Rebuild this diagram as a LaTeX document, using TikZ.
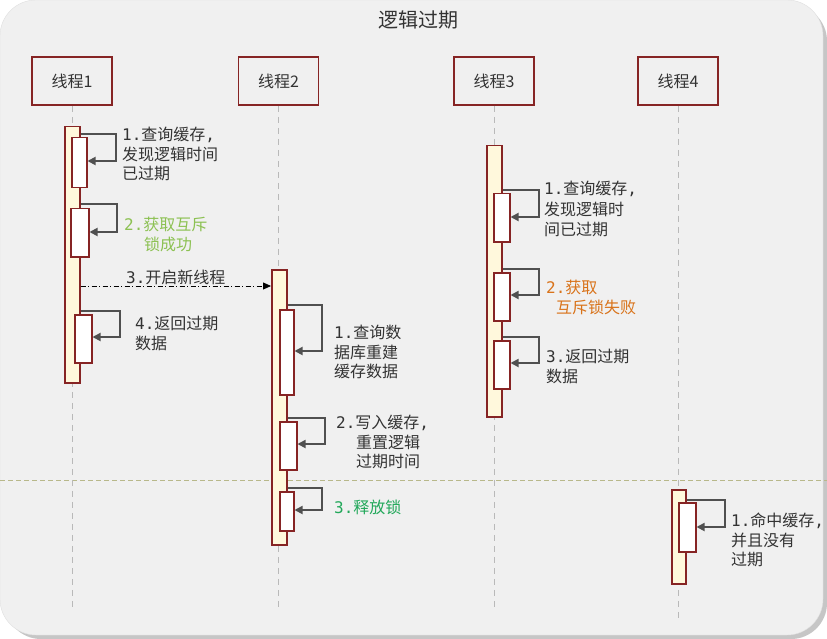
\documentclass[tikz,border=0pt]{standalone}
\usepackage{fontspec}
\setmainfont{Noto Sans CJK SC}
\newfontfamily\digitfont{DejaVu Sans Mono}
\newcommand\stepno[1]{{\digitfont #1}}
\newcommand\cm{{\digitfont ,}}
\usetikzlibrary{arrows.meta}
\definecolor{bg}{HTML}{F0F0F0}
\definecolor{frame}{HTML}{862424}
\definecolor{barfill}{HTML}{FFF8DC}
\definecolor{txt}{HTML}{333333}
\definecolor{arr}{HTML}{505050}
\definecolor{okgreen}{HTML}{8CC152}
\definecolor{relgreen}{HTML}{22A85A}
\definecolor{failorange}{HTML}{D9731A}
\definecolor{sepcol}{HTML}{B8B88A}
\tikzset{
  head/.style={draw=frame, line width=1.6pt, fill=bg, minimum width=80pt, minimum height=48pt, inner sep=0pt, font=\fontsize{16}{19}\selectfont, text=txt},
  lifeline/.style={draw=gray!55, line width=1pt, dash pattern=on 6pt off 5pt},
  actbar/.style={draw=frame, fill=barfill, line width=1.5pt, inner sep=0pt, anchor=north west},
  subact/.style={draw=frame, fill=white, line width=1.5pt, inner sep=0pt, anchor=north west},
  selfmsg/.style={draw=arr, line width=1.7pt, -{Triangle[length=8pt,width=8pt]}},
  callmsg/.style={draw=black, line width=0.8pt, dash pattern=on 5pt off 2.5pt on 1pt off 2.5pt, -{Triangle[length=8pt,width=7pt]}},
  lbl/.style={anchor=north west, inner sep=0pt, align=left, text=txt, font=\fontsize{16}{19.5}\selectfont},
  sepline/.style={draw=sepcol, line width=0.8pt, dash pattern=on 5pt off 3pt}
}
\begin{document}
\begin{tikzpicture}[x=1pt,y=-1pt]
\useasboundingbox (0,0) rectangle (827,639);
\fill[white] (0,0) rectangle (827,639);
\fill[gray!45, rounded corners=36pt] (5,5) rectangle (827,639);
\fill[bg, rounded corners=36pt, draw=gray!25] (0,0) rectangle (823,635);

\node[text=txt, font=\fontsize{20}{24}\selectfont] (title) at (418,20) {逻辑过期};

\draw[sepline] (0,480) coordinate (sepL) -- (827,480) coordinate (sepR);

% headers
\node[head] (h1) at (72,81) {线程1};
\node[head] (h2) at (278.5,81) {线程2};
\node[head] (h3) at (494,81) {线程3};
\node[head] (h4) at (678,81) {线程4};

\coordinate (e1) at (72,608);
\coordinate (e2) at (278.5,608);
\coordinate (e3) at (494,608);
\coordinate (e4) at (678,618);
\draw[lifeline] (h1.south) -- (e1);
\draw[lifeline] (h2.south) -- (e2);
\draw[lifeline] (h3.south) -- (e3);
\draw[lifeline] (h4.south) -- (e4);

% thread 1
\node[actbar, minimum width=15pt, minimum height=256pt] (b1) at (64,126) {};
\node[subact, minimum width=15pt, minimum height=50pt] (s11) at (71,137) {};
\node[subact, minimum width=18pt, minimum height=48pt] (s12) at (70,208) {};
\node[subact, minimum width=17pt, minimum height=48pt] (s13) at (74,314) {};
\draw[selfmsg] (b1.east |- 0,134) -- (116,134) |- (s11.east |- 0,161);
\draw[selfmsg] (b1.east |- 0,204) -- (117,204) |- (s12.east |- 0,232);
\draw[selfmsg] (b1.east |- 0,311) -- (120,311) |- (s13.east |- 0,337);

% thread 2
\node[actbar, minimum width=15pt, minimum height=275pt] (b2) at (271,269) {};
\node[subact, minimum width=14pt, minimum height=85pt] (s21) at (279,309) {};
\node[subact, minimum width=17pt, minimum height=48pt] (s22) at (279,421) {};
\node[subact, minimum width=14pt, minimum height=39pt] (s23) at (279,491) {};
\draw[selfmsg] (b2.east |- 0,305) -- (322,305) |- (s21.east |- 0,351);
\draw[selfmsg] (b2.east |- 0,418) -- (325,418) |- (s22.east |- 0,444);
\draw[selfmsg] (b2.east |- 0,488) -- (322,488) |- (s23.east |- 0,510);

\draw[callmsg] (b1.east |- 0,286) -- (b2.west |- 0,286);

% thread 3
\node[actbar, minimum width=15pt, minimum height=271pt] (b3) at (486,145) {};
\node[subact, minimum width=16pt, minimum height=48pt] (s31) at (493,193) {};
\node[subact, minimum width=16pt, minimum height=48pt] (s32) at (493,272) {};
\node[subact, minimum width=16pt, minimum height=48pt] (s33) at (493,340) {};
\draw[selfmsg] (b3.east |- 0,190) -- (539,190) |- (s31.east |- 0,217);
\draw[selfmsg] (b3.east |- 0,269) -- (539,269) |- (s32.east |- 0,295);
\draw[selfmsg] (b3.east |- 0,337) -- (539,337) |- (s33.east |- 0,363);

% thread 4
\node[actbar, minimum width=14pt, minimum height=94pt] (b4) at (671,489) {};
\node[subact, minimum width=17pt, minimum height=49pt] (s41) at (678,502) {};
\draw[selfmsg] (b4.east |- 0,500) -- (725,500) |- (s41.east |- 0,527);

% labels
\node[lbl] (t11) at (122,127) {\stepno{1.}查询缓存\cm\\发现逻辑时间\\已过期};
\node[lbl, text=okgreen] (t12) at (124,217) {\stepno{2.}获取互斥\\\hspace*{20pt}锁成功};
\node[lbl] (t13) at (126,270) {\stepno{3.}开启新线程};
\node[lbl] (t14) at (135,316) {\stepno{4.}返回过期\\数据};

\node[lbl] (t21) at (334,325) {\stepno{1.}查询数\\据库重建\\缓存数据};
\node[lbl] (t22) at (336,415) {\stepno{2.}写入缓存\cm\\\hspace*{20pt}重置逻辑\\\hspace*{20pt}过期时间};
\node[lbl, text=relgreen] (t23) at (334,500) {\stepno{3.}释放锁};

\node[lbl, font=\fontsize{16}{20.5}\selectfont] (t31) at (544,181) {\stepno{1.}查询缓存\cm\\发现逻辑时\\间已过期};
\node[lbl, text=failorange] (t32) at (546,280) {\stepno{2.}获取\\\hspace*{10pt}互斥锁失败};
\node[lbl] (t33) at (546,349) {\stepno{3.}返回过期\\数据};

\node[lbl] (t41) at (731,513) {\stepno{1.}命中缓存\cm\\并且没有\\过期};
\end{tikzpicture}
\end{document}
